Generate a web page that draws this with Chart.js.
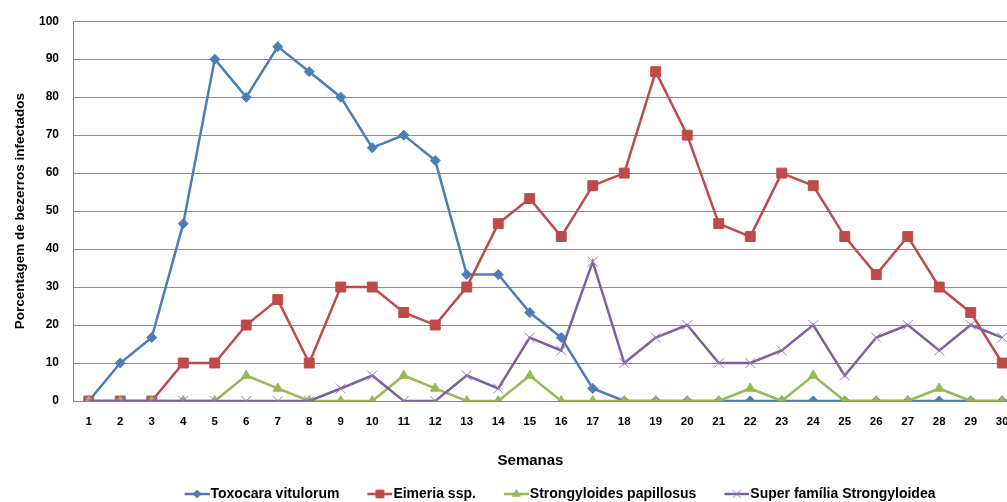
<!DOCTYPE html>
<html>
<head>
<meta charset="utf-8">
<script src="https://cdn.jsdelivr.net/npm/chart.js@4/dist/chart.umd.min.js"></script>
<style>
  html, body { margin: 0; padding: 0; background: #fff; overflow: hidden; }
  #wrap { width: 1030px; height: 502px; position: relative; }
</style>
</head>
<body>
<div id="wrap"><canvas id="chart"></canvas></div>
<script>
// Dados
const semanas = ['1','2','3','4','5','6','7','8','9','10','11','12','13','14','15','16','17','18','19','20','21','22','23','24','25','26','27','28','29','30'];
const toxocara = [0, 10, 16.7, 46.7, 90, 80, 93.3, 86.7, 80, 66.7, 70, 63.3, 33.3, 33.3, 23.3, 16.7, 3.3, 0, 0, 0, 0, 0, 0, 0, 0, 0, 0, 0, 0, 0];
const eimeria = [0, 0, 0, 10, 10, 20, 26.7, 10, 30, 30, 23.3, 20, 30, 46.7, 53.3, 43.3, 56.7, 60, 86.7, 70, 46.7, 43.3, 60, 56.7, 43.3, 33.3, 43.3, 30, 23.3, 10];
const strongyloides = [0, 0, 0, 0, 0, 6.7, 3.3, 0, 0, 0, 6.7, 3.3, 0, 0, 6.7, 0, 0, 0, 0, 0, 0, 3.3, 0, 6.7, 0, 0, 0, 3.3, 0, 0];
const strongyloidea = [0, 0, 0, 0, 0, 0, 0, 0, 3.3, 6.7, 0, 0, 6.7, 3.3, 16.7, 13.3, 36.7, 10, 16.7, 20, 10, 10, 13.3, 20, 6.7, 16.7, 20, 13.3, 20, 16.7];
const yTicks = [0, 10, 20, 30, 40, 50, 60, 70, 80, 90, 100];

const colors = {
    blue:   '#4a7ebb',
    red:    '#be4b48',
    green:  '#98b954',
    purple: '#7d60a0',
};

const LEGEND_BOX = 47;

// Ícone da legenda: linha curta com o marcador no meio
function legendIcon(color, style, markColor, r) {
    const c = document.createElement('canvas');
    c.width = LEGEND_BOX + 12; c.height = 14;
    const ctx = c.getContext('2d');
    const x0 = c.width - 25;
    ctx.strokeStyle = color;
    ctx.lineWidth = 2.5;
    ctx.beginPath(); ctx.moveTo(x0, 7); ctx.lineTo(c.width, 7); ctx.stroke();
    ctx.fillStyle = markColor || color;
    ctx.strokeStyle = markColor || color;
    ctx.lineWidth = 1;
    Chart.helpers.drawPoint(ctx, { pointStyle: style, radius: r, borderWidth: 1 }, x0 + 12.5, 7);
    return c;
}

const fontBold = (size) => ({ family: '"Liberation Sans", Arial, sans-serif', size: size, weight: 'bold' });

const series = [
    { label: 'Toxocara vitulorum', data: toxocara, color: colors.blue, style: 'rectRot', radius: 5, legendR: 4, order: 3 },
    { label: 'Eimeria ssp.', data: eimeria, color: colors.red, style: 'rect', radius: 7, legendR: 5.5, order: 2 },
    { label: 'Strongyloides papillosus', data: strongyloides, color: colors.green, style: 'triangle', radius: 5.5, legendR: 4.5, order: 1 },
    { label: 'Super família Strongyloidea', data: strongyloidea, color: colors.purple, style: 'crossRot', radius: 7, legendR: 6, order: 0, markColor: '#9580b8' },
];

// Centraliza a legenda e o título "Semanas" como no original
const layoutTweaks = {
    id: 'layoutTweaks',
    afterLayout(chart) {
        chart.legend.left += 32;
        chart.legend.right += 32;
    },
    afterDraw(chart) {
        const { ctx, chartArea } = chart;
        ctx.save();
        ctx.font = 'bold 15px "Liberation Sans", Arial, sans-serif';
        ctx.fillStyle = '#000';
        ctx.textAlign = 'center';
        ctx.textBaseline = 'middle';
        ctx.fillText('Semanas', (chartArea.left + chartArea.right) / 2 - 15, chartArea.bottom + 60);
        ctx.restore();
    }
};

new Chart(document.getElementById('chart'), {
    type: 'line',
    data: {
        labels: semanas,
        datasets: series.map(s => ({
            label: s.label,
            data: s.data,
            order: s.order,
            borderColor: s.color,
            backgroundColor: s.color,
            borderWidth: 2.5,
            tension: 0,
            pointStyle: s.style,
            pointRadius: s.radius,
            pointHoverRadius: s.radius,
            pointBackgroundColor: s.markColor || s.color,
            pointBorderColor: s.markColor || s.color,
            pointBorderWidth: 1,
            legendIcon: legendIcon(s.color, s.style, s.markColor, s.legendR),
        }))
    },
    plugins: [layoutTweaks],
    options: {
        responsive: true,
        maintainAspectRatio: false,
        animation: false,
        layout: { padding: { top: 15, right: 12, left: 10, bottom: -9 } },
        plugins: {
            tooltip: { enabled: false },
            legend: {
                position: 'bottom',
                labels: {
                    color: '#000',
                    font: fontBold(14),
                    usePointStyle: true,
                    pointStyleWidth: LEGEND_BOX,
                    padding: 0,
                    generateLabels: chart => chart.data.datasets.map((ds, i) => ({
                        text: ds.label,
                        datasetIndex: i,
                        pointStyle: ds.legendIcon,
                        fontColor: '#000',
                        lineWidth: 0,
                        hidden: false,
                    })),
                }
            }
        },
        scales: {
            x: {
                offset: true,
                grid: { display: false, drawTicks: false },
                border: { color: '#868686', width: 1 },
                ticks: { color: '#000', font: fontBold(11.5), padding: 14, maxRotation: 0, autoSkip: false },
                afterFit: scale => { scale.height = 86; },
            },
            y: {
                min: 0,
                max: 100,
                afterBuildTicks: scale => { scale.ticks = yTicks.map(v => ({ value: v })); },
                grid: { color: '#8c8c8c', lineWidth: 1, drawTicks: false },
                border: { color: '#868686', width: 1 },
                ticks: { color: '#000', font: fontBold(12), padding: 14 },
                title: { display: true, text: 'Porcentagem de bezerros infectados', color: '#000', font: fontBold(13.5), padding: { top: 2, bottom: 4 } },
                afterFit: scale => { scale.width = 63; },
            }
        }
    }
});
</script>
</body>
</html>
